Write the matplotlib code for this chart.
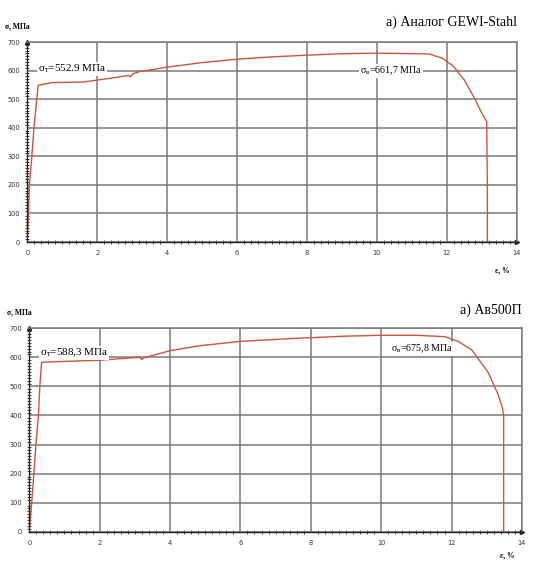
import matplotlib
matplotlib.use('Agg')
import matplotlib.pyplot as plt
import numpy as np
from matplotlib.ticker import MultipleLocator

# Data
strain_gewi = [0, 0.03, 0.06, 0.13, 0.19, 0.27, 0.31, 0.7, 1.6, 2.3, 2.9, 2.95, 3.0, 3.2, 4.0, 5.0, 6.0, 7.0,
               8.0, 9.0, 10.0, 10.65, 11.5, 11.88, 12.2, 12.5, 12.79, 12.98, 13.14, 13.16, 13.16]
stress_gewi = [0, 100, 200, 300, 400, 500, 548, 558, 560, 572, 583, 578, 588, 596, 612, 628, 640, 648,
               654, 659, 661, 660, 658, 643, 614, 567, 504, 456, 421, 200, 0]

strain_av = [0, 0.07, 0.13, 0.19, 0.26, 0.30, 0.35, 0.68, 2.0, 2.85, 3.14, 3.2, 3.25, 4.0, 4.84, 6.0, 7.67,
             9.0, 10.03, 11.0, 11.82, 12.2, 12.58, 13.05, 13.33, 13.45, 13.48, 13.48, 13.48]
stress_av = [0, 100, 200, 300, 400, 500, 583, 585, 590, 598, 600, 592, 598, 623, 640, 655, 666,
             673, 676, 676, 671, 654, 625, 546, 470, 425, 396, 200, 0]

titles = ['а) Аналог GEWI-Stahl', 'а) Ав500П']
yield_labels = [r'$\mathrm{\sigma}_{т}$=552.9 МПа', r'$\mathrm{\sigma}_{т}$=588,3 МПа']
ult_labels = [r'$\mathrm{\sigma}_{в}$=661,7 МПа', r'$\mathrm{\sigma}_{в}$=675,8 МПа']

plt.rcParams['mathtext.fontset'] = 'custom'
plt.rcParams['mathtext.rm'] = 'Liberation Serif'
plt.rcParams['mathtext.it'] = 'Liberation Serif'

serif = 'Liberation Serif'
line_color = '#c9573f'
grid_color = '#7a7a7a'

fig = plt.figure(figsize=(5.42, 5.61), dpi=100)
ax_top = fig.add_axes([0.0504, 0.5686, 0.903, 0.3565])
ax_bot = fig.add_axes([0.054, 0.0522, 0.909, 0.3626])


def style_axes(ax):
    ax.set_xlim(0, 14)
    ax.set_ylim(0, 700)
    ax.xaxis.set_major_locator(MultipleLocator(2))
    ax.xaxis.set_minor_locator(MultipleLocator(0.2))
    ax.yaxis.set_major_locator(MultipleLocator(100))
    ax.yaxis.set_minor_locator(MultipleLocator(10))
    ax.grid(True, which='major', color=grid_color, linewidth=1.1)
    ax.set_axisbelow(True)
    for s in ['top', 'right']:
        ax.spines[s].set_color(grid_color)
        ax.spines[s].set_linewidth(1.1)
    for s in ['left', 'bottom']:
        ax.spines[s].set_color('#222222')
        ax.spines[s].set_linewidth(1.0)
    ax.tick_params(which='major', length=0, labelsize=4.8, labelcolor='#333333', pad=5)
    ax.tick_params(which='minor', direction='inout', length=2.5, width=0.6, color='#222222')
    ax.tick_params(axis='x', which='major', pad=6)
    # axis arrow heads
    ax.plot([0], [700], marker='^', markersize=3, color='#222222', clip_on=False)
    ax.plot([14], [0], marker='>', markersize=3, color='#222222', clip_on=False)


bbox = dict(facecolor='white', edgecolor='none', pad=0.5)

panels = [(ax_top, strain_gewi, stress_gewi, titles[0], 1.10, -0.14),
          (ax_bot, strain_av, stress_av, titles[1], 1.09, -0.115)]

for ax, x, y, title, ty, ey in panels:
    style_axes(ax)
    ax.plot(x, y, color=line_color, linewidth=1.0)
    ax.text(1.0, ty, title, transform=ax.transAxes, ha='right', va='center',
            fontsize=10, family=serif)
    ax.text(-0.045, 1.06, 'σ, МПа', transform=ax.transAxes, ha='left', va='bottom',
            fontsize=5.5, family=serif, fontweight='bold')
    ax.text(0.985, ey, 'ε, %', transform=ax.transAxes, ha='right', va='center',
            fontsize=5.5, family=serif, fontweight='bold')

ax_top.text(0.3, 605, yield_labels[0], fontsize=8, family=serif, va='center', ha='left', bbox=bbox)
ax_top.text(10.4, 600, ult_labels[0], fontsize=7.2, family=serif, va='center', ha='center', bbox=bbox)
ax_bot.text(0.3, 615, yield_labels[1], fontsize=8, family=serif, va='center', ha='left', bbox=bbox)
ax_bot.text(11.15, 630, ult_labels[1], fontsize=7.2, family=serif, va='center', ha='center', bbox=bbox)

fig.savefig('out.png', dpi=100)
